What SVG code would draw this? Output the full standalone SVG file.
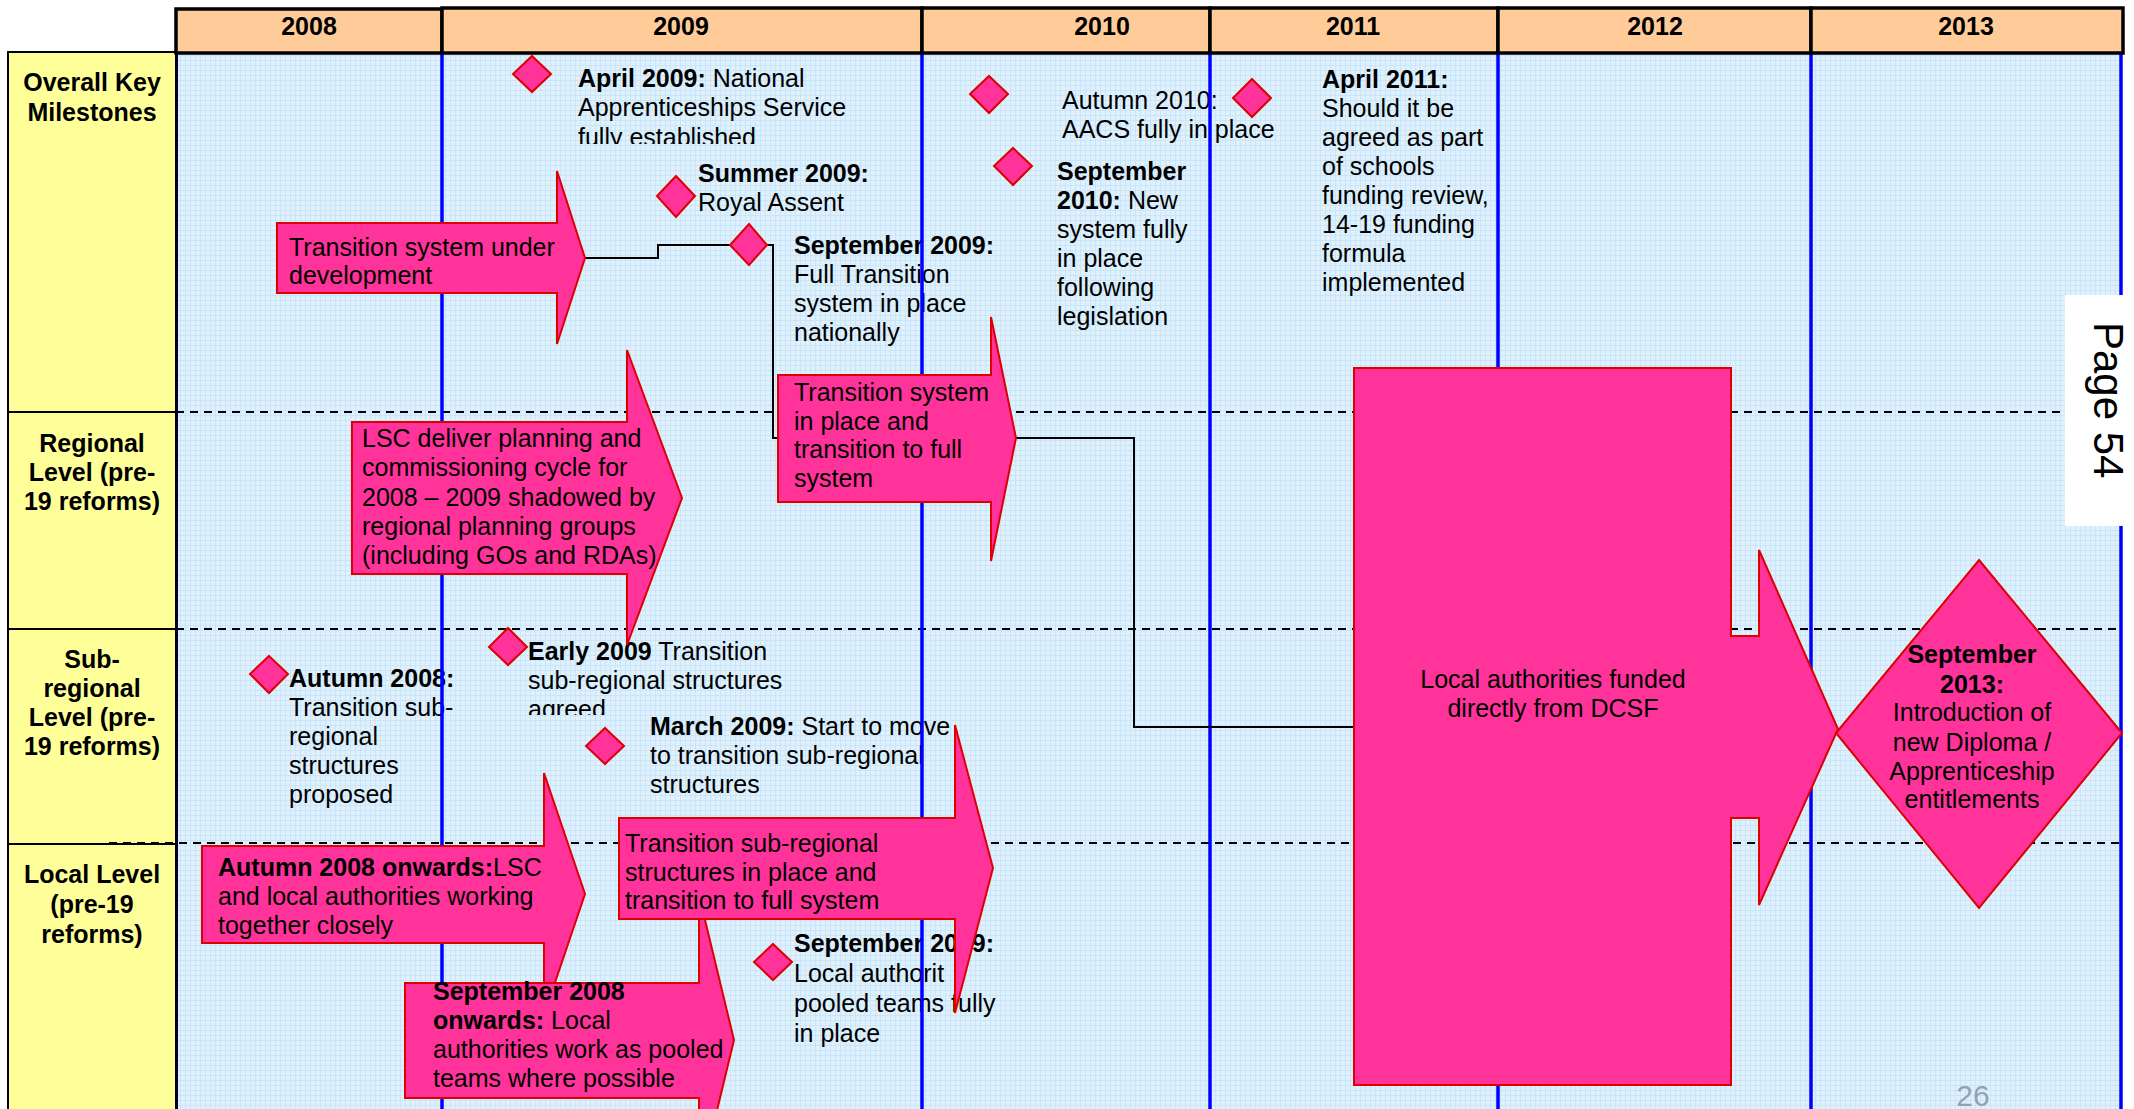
<svg xmlns="http://www.w3.org/2000/svg" width="2134" height="1109" viewBox="0 0 2134 1109">
<style>
text{font-family:"Liberation Sans",Arial,sans-serif;font-size:25px;fill:#000}
.b{font-weight:bold}
.c{text-anchor:middle}
.yr{font-weight:bold;text-anchor:middle}
.hdr{fill:#FFCC99;stroke:#000;stroke-width:3.5}
.shape{fill:#FF3399;stroke:#DD0000;stroke-width:2;stroke-linejoin:miter}
.blue{stroke:#0000FF;stroke-width:3.5}
.dash{stroke:#000;stroke-width:2;stroke-dasharray:8 6;fill:none}
.conn{stroke:#000;stroke-width:2;fill:none}
</style>
<defs>
<pattern id="grid" width="5" height="5" patternUnits="userSpaceOnUse">
<rect width="5" height="5" fill="#DEF1FD"/>
<path d="M0 0.5H5M0.5 0V5" stroke="#CBE5F8" stroke-width="1"/>
</pattern>
<clipPath id="clipApr"><rect x="560" y="50" width="340" height="94"/></clipPath>
<clipPath id="clipEarly"><rect x="520" y="630" width="320" height="85"/></clipPath>
</defs>
<rect width="2134" height="1109" fill="#fff"/>
<rect x="176" y="53" width="1946" height="1056" fill="url(#grid)"/>

<g id="row-labels">
<rect x="8" y="52" width="168" height="1060" fill="#FFFF99" stroke="#000" stroke-width="2"/>
<line x1="8" y1="412" x2="176" y2="412" stroke="#000" stroke-width="2"/>
<line x1="8" y1="629" x2="176" y2="629" stroke="#000" stroke-width="2"/>
<line x1="8" y1="844" x2="176" y2="844" stroke="#000" stroke-width="2"/>
<g id="label-overall"><text class="yr" x="92" y="91">Overall Key</text><text class="yr" x="92" y="121">Milestones</text></g>
<g id="label-regional"><text class="yr" x="92" y="452">Regional</text><text class="yr" x="92" y="481">Level (pre-</text><text class="yr" x="92" y="510">19 reforms)</text></g>
<g id="label-subregional"><text class="yr" x="92" y="668">Sub-</text><text class="yr" x="92" y="697">regional</text><text class="yr" x="92" y="726">Level (pre-</text><text class="yr" x="92" y="755">19 reforms)</text></g>
<g id="label-local"><text class="yr" x="92" y="883">Local Level</text><text class="yr" x="92" y="913">(pre-19</text><text class="yr" x="92" y="943">reforms)</text></g>
</g>

<g id="row-dividers">
<line class="dash" x1="176" y1="412" x2="2122" y2="412"/>
<line class="dash" x1="176" y1="629" x2="2122" y2="629"/>
<line class="dash" x1="109" y1="843" x2="2122" y2="843"/>
</g>

<g id="milestone-texts">
<g id="t-apr2009" clip-path="url(#clipApr)">
<text x="578" y="87"><tspan class="b">April 2009:</tspan> National</text>
<text x="578" y="116">Apprenticeships Service</text>
<text x="578" y="146">fully established</text>
</g>
<g id="t-summer2009"><text class="b" x="698" y="182">Summer 2009:</text><text x="698" y="211">Royal Assent</text></g>
<g id="t-sep2009"><text class="b" x="794" y="254">September 2009:</text><text x="794" y="283">Full Transition</text><text x="794" y="312">system in place</text><text x="794" y="341">nationally</text></g>
<g id="t-aut2010"><text x="1062" y="109">Autumn 2010:</text><text x="1062" y="138">AACS fully in place</text></g>
<g id="t-sep2010"><text class="b" x="1057" y="180">September</text><text x="1057" y="209"><tspan class="b">2010:</tspan> New</text><text x="1057" y="238">system fully</text><text x="1057" y="267">in place</text><text x="1057" y="296">following</text><text x="1057" y="325">legislation</text></g>
<g id="t-apr2011"><text class="b" x="1322" y="88">April 2011:</text><text x="1322" y="117">Should it be</text><text x="1322" y="146">agreed as part</text><text x="1322" y="175">of schools</text><text x="1322" y="204">funding review,</text><text x="1322" y="233">14-19 funding</text><text x="1322" y="262">formula</text><text x="1322" y="291">implemented</text></g>
<g id="t-aut2008"><text class="b" x="289" y="687">Autumn 2008:</text><text x="289" y="716">Transition sub-</text><text x="289" y="745">regional</text><text x="289" y="774">structures</text><text x="289" y="803">proposed</text></g>
<g id="t-early2009" clip-path="url(#clipEarly)"><text x="528" y="660"><tspan class="b">Early 2009</tspan> Transition</text><text x="528" y="689">sub-regional structures</text><text x="528" y="718">agreed</text></g>
<g id="t-mar2009"><text x="650" y="735"><tspan class="b">March 2009:</tspan> Start to move</text><text x="650" y="764">to transition sub-regional</text><text x="650" y="793">structures</text></g>
<g id="t-sep2009-local"><text class="b" x="794" y="952">September 2009:</text><text x="794" y="982">Local authorit</text><text x="794" y="1012">pooled teams fully</text><text x="794" y="1042">in place</text></g>
</g>

<g id="year-lines">
<line x1="177" y1="53" x2="177" y2="1109" stroke="#000033" stroke-width="2"/>
<line class="blue" x1="442" y1="53" x2="442" y2="1109"/>
<line class="blue" x1="922" y1="53" x2="922" y2="1109"/>
<line class="blue" x1="1210" y1="53" x2="1210" y2="1109"/>
<line class="blue" x1="1498" y1="53" x2="1498" y2="1109"/>
<line class="blue" x1="1811" y1="53" x2="1811" y2="1109"/>
<line class="blue" x1="2121" y1="53" x2="2121" y2="1109"/>
</g>

<g id="connectors">
<path class="conn" d="M585 258H658V245H773V438H778"/>
<path class="conn" d="M1016 438H1134V727H1354"/>
</g>

<g id="arrow-dev"><polygon class="shape" points="277,223 557,223 557,171 585,258 557,344 557,293 277,293"/><text x="289" y="256">Transition system under</text><text x="289" y="284">development</text></g>
<g id="arrow-lsc"><polygon class="shape" points="352,422 627,422 627,350 682,498 627,645 627,574 352,574"/><text x="362" y="447">LSC deliver planning and</text><text x="362" y="476">commissioning cycle for</text><text x="362" y="506">2008 – 2009 shadowed by</text><text x="362" y="535">regional planning groups</text><text x="362" y="564">(including GOs and RDAs)</text></g>
<g id="arrow-inplace"><polygon class="shape" points="778,375 991,375 991,317 1016,438 991,561 991,502 778,502"/><text x="794" y="401">Transition system</text><text x="794" y="430">in place and</text><text x="794" y="458">transition to full</text><text x="794" y="487">system</text></g>
<g id="arrow-aut2008"><polygon class="shape" points="202,846 544,846 544,773 585,894 544,1015 544,943 202,943"/><text x="218" y="876"><tspan class="b">Autumn 2008 onwards:</tspan>LSC</text><text x="218" y="905">and local authorities working</text><text x="218" y="934">together closely</text></g>
<g id="arrow-sep2008"><polygon class="shape" points="405,983 699,983 699,895 734,1040 699,1185 699,1098 405,1098"/><text class="b" x="433" y="1000">September 2008</text><text x="433" y="1029"><tspan class="b">onwards:</tspan> Local</text><text x="433" y="1058">authorities work as pooled</text><text x="433" y="1087">teams where possible</text></g>
<g id="arrow-subregional"><polygon class="shape" points="619,818 955,818 955,725 993,868 955,1013 955,919 619,919"/><text x="625" y="852">Transition sub-regional</text><text x="625" y="881">structures in place and</text><text x="625" y="909">transition to full system</text></g>
<g id="arrow-dcsf"><polygon class="shape" points="1354,368 1731,368 1731,636 1759,636 1759,550 1838,729 1759,905 1759,818 1731,818 1731,1085 1354,1085"/><text class="c" x="1553" y="688">Local authorities funded</text><text class="c" x="1553" y="717">directly from DCSF</text></g>

<g id="diamonds">
<polygon id="d-apr2009" class="shape" points="532,56 551,74 532,92 513,74"/>
<polygon id="d-summer2009" class="shape" points="676,176 695,196 676,217 657,196"/>
<polygon id="d-sep2009" class="shape" points="749,224 767,245 749,265 730,245"/>
<polygon id="d-aut2010a" class="shape" points="989,76 1008,94 989,113 970,94"/>
<polygon id="d-aut2010b" class="shape" points="1252,79 1271,98 1252,117 1233,98"/>
<polygon id="d-sep2010" class="shape" points="1013,148 1032,166 1013,185 994,166"/>
<polygon id="d-aut2008" class="shape" points="269,656 288,674 269,693 250,674"/>
<polygon id="d-early2009" class="shape" points="508,628 527,647 508,665 489,647"/>
<polygon id="d-mar2009" class="shape" points="605,728 624,746 605,764 586,746"/>
<polygon id="d-sep2009-local" class="shape" points="773,944 792,962 773,980 754,962"/>
</g>

<g id="milestone-sep2013"><polygon class="shape" points="1979,560 2122,733 1979,908 1836,733"/><text class="b c" x="1972" y="663">September</text><text class="b c" x="1972" y="693">2013:</text><text class="c" x="1972" y="721">Introduction of</text><text class="c" x="1972" y="751">new Diploma /</text><text class="c" x="1972" y="780">Apprenticeship</text><text class="c" x="1972" y="808">entitlements</text></g>

<g id="header">
<rect class="hdr" x="176" y="9" width="266" height="44"/>
<rect class="hdr" x="442" y="8" width="480" height="45"/>
<rect class="hdr" x="922" y="8" width="288" height="45"/>
<rect class="hdr" x="1210" y="8" width="288" height="45"/>
<rect class="hdr" x="1498" y="8" width="313" height="45"/>
<rect class="hdr" x="1811" y="8" width="312" height="45"/>
<text class="yr" x="309" y="35">2008</text>
<text class="yr" x="681" y="35">2009</text>
<text class="yr" x="1102" y="35">2010</text>
<text class="yr" x="1353" y="35">2011</text>
<text class="yr" x="1655" y="35">2012</text>
<text class="yr" x="1966" y="35">2013</text>
</g>

<g id="page-tab">
<rect x="2065" y="295" width="69" height="231" fill="#fff"/>
<text transform="translate(2094,322) rotate(90)" style="font-size:42px">Page 54</text>
</g>
<text x="1973" y="1106" class="c" style="font-size:30px;fill:#93A2B2">26</text>
</svg>
